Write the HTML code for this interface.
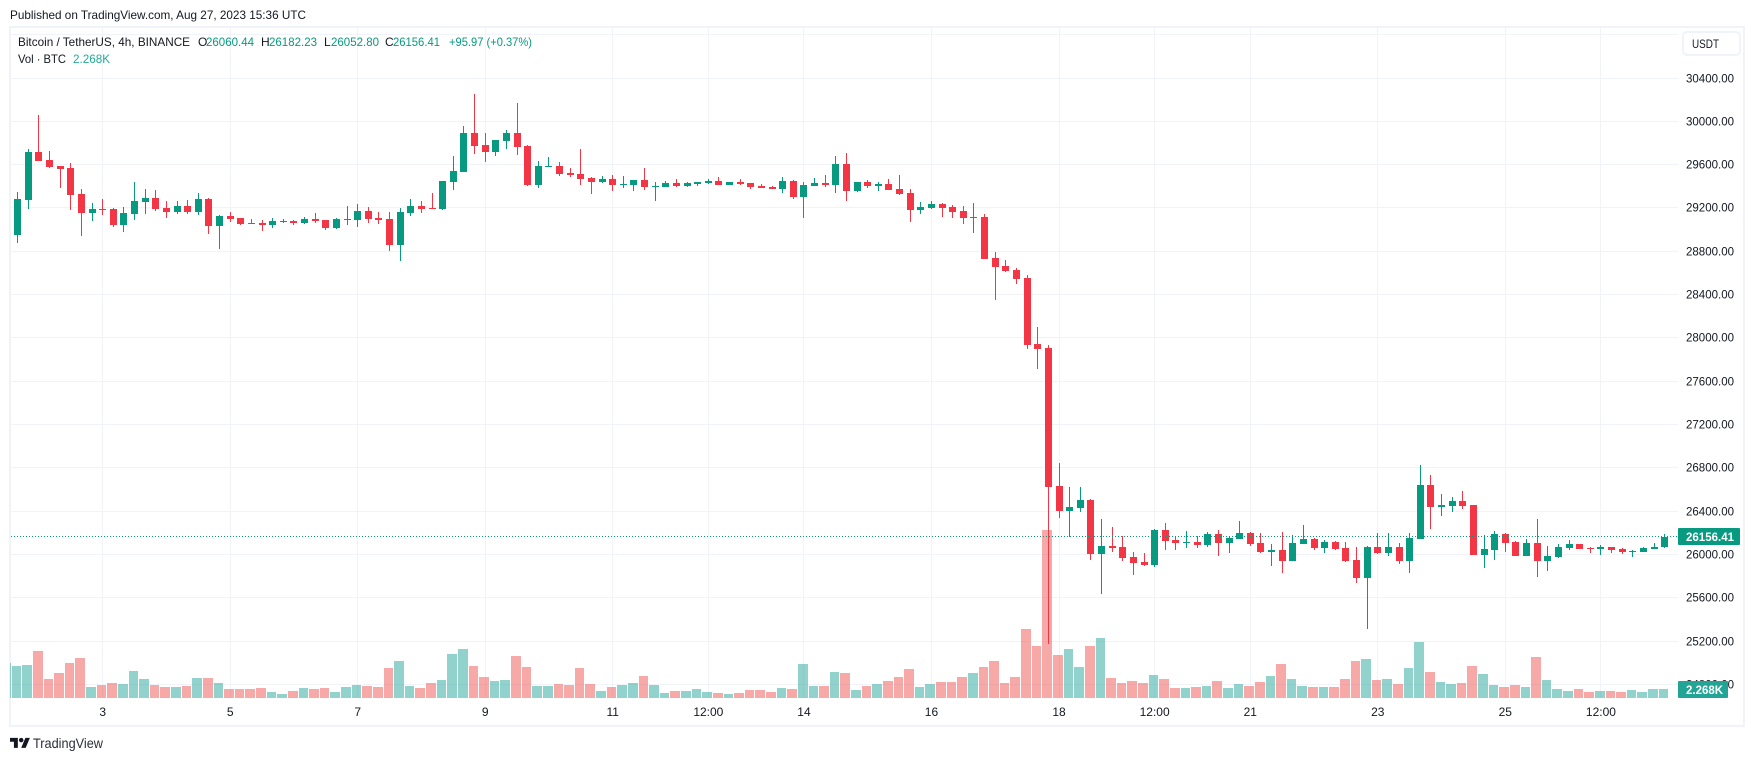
<!DOCTYPE html>
<html lang="en">
<head>
<meta charset="utf-8">
<title>Bitcoin / TetherUS 4h chart</title>
<style>
html,body{margin:0;padding:0;background:#fff;width:1754px;height:761px;overflow:hidden}
svg{display:block}
text{font-family:"Liberation Sans",sans-serif;fill:#131722}
</style>
</head>
<body>
<svg id="chart" xmlns="http://www.w3.org/2000/svg" width="1754" height="761" viewBox="0 0 1754 761">
  <defs>
    <clipPath id="pane-clip"><rect x="10" y="28" width="1668" height="670"/></clipPath>
    <clipPath id="candle-clip"><rect x="11" y="28" width="1667" height="670"/></clipPath>
  </defs>
  <rect x="10" y="27" width="1734" height="699" fill="#fff" stroke="#F0F3FA" stroke-width="2"/>
  <g id="grid"></g>
  <g id="volumes" clip-path="url(#pane-clip)"></g>
  <g id="candles" clip-path="url(#candle-clip)"></g>
  <g id="price-axis"></g>
  <g id="time-axis"></g>

  <text x="10" y="19" font-size="12" fill="#131722" textLength="296" lengthAdjust="spacingAndGlyphs">Published on TradingView.com, Aug 27, 2023 15:36 UTC</text>

  <g font-size="12">
    <text x="18" y="46" textLength="172" lengthAdjust="spacingAndGlyphs">Bitcoin / TetherUS, 4h, BINANCE</text>
    <text x="198" y="46">O</text>
    <text x="206" y="46" style="fill:#089981" textLength="48" lengthAdjust="spacingAndGlyphs">26060.44</text>
    <text x="261" y="46">H</text>
    <text x="269" y="46" style="fill:#089981" textLength="48" lengthAdjust="spacingAndGlyphs">26182.23</text>
    <text x="324" y="46">L</text>
    <text x="331" y="46" style="fill:#089981" textLength="48" lengthAdjust="spacingAndGlyphs">26052.80</text>
    <text x="385" y="46">C</text>
    <text x="393" y="46" style="fill:#089981" textLength="47" lengthAdjust="spacingAndGlyphs">26156.41</text>
    <text x="449" y="46" style="fill:#089981" textLength="83" lengthAdjust="spacingAndGlyphs">+95.97 (+0.37%)</text>
    <text x="18" y="63" textLength="48" lengthAdjust="spacingAndGlyphs">Vol · BTC</text>
    <text x="73" y="63" style="fill:#22ab94" textLength="37" lengthAdjust="spacingAndGlyphs">2.268K</text>
  </g>

  <g>
    <rect x="1683" y="32" width="57" height="23" rx="4" fill="#fff" stroke="#F0F3FA" stroke-width="2"/>
    <text x="1692" y="48" font-size="12" textLength="27" lengthAdjust="spacingAndGlyphs">USDT</text>
  </g>

  <g>
    <g transform="translate(10 735.6) scale(.56)" fill="#131722">
      <path d="M14 22H7V11H0V4h14v18zM28 22h-8l7.5-18h8L28 22z"/>
      <circle cx="20" cy="8" r="4"/>
    </g>
    <text x="33" y="748" font-size="14" style="fill:#2a2e39" textLength="70" lengthAdjust="spacingAndGlyphs">TradingView</text>
  </g>
</svg>

<script>
// Bars run from the partly hidden 4h bar before the first full candle to the latest bar.
const opens = [29150,
28946,29269,29712,29638,29583,29564,29324,29149,29186,29186,
29038,29139,29250,29287,29195,29158,29213,29158,29278,29029,
29121,29102,29056,29056,29038,29066,29075,29056,29093,29084,
29010,29087,29084,29167,29102,29093,28853,29149,29213,29195,
29186,29435,29527,29887,29777,29712,29814,29887,29767,29407,
29577,29583,29518,29509,29472,29435,29463,29407,29407,29453,
29389,29389,29426,29398,29416,29426,29444,29407,29435,29426,
29398,29389,29370,29444,29296,29398,29426,29407,29601,29352,
29435,29398,29416,29370,29333,29176,29195,29232,29204,29167,
29106,29112,28733,28659,28622,28548,27939,27902,26628,26397,
26424,26498,26000,26073,26064,25972,25925,25898,26221,26129,
26101,26110,26083,26184,26101,26138,26193,26101,26018,26036,
25935,26092,26138,26055,26110,26055,25944,25778,26064,26009,
26064,25935,26138,26637,26434,26443,26489,26452,25990,26036,
26184,26110,25981,26101,25935,25972,26055,26092,26055,26046,
26064,26046,26021,26018,26046,26060.44];

const highs = [29260,
29343,29740,30054,29721,29583,29610,29370,29241,29278,29195,
29204,29435,29370,29361,29259,29259,29269,29333,29284,29130,
29158,29102,29093,29084,29102,29093,29084,29112,29149,29084,
29102,29213,29232,29204,29158,29158,29195,29278,29259,29333,
29444,29675,29952,30248,29887,29823,29915,30165,29777,29629,
29666,29620,29564,29740,29481,29490,29500,29490,29453,29564,
29435,29444,29463,29435,29435,29463,29481,29435,29463,29426,
29416,29398,29481,29453,29435,29472,29500,29675,29703,29435,
29453,29435,29463,29500,29370,29250,29259,29241,29222,29213,
29241,29139,28788,28715,28641,28576,28096,27930,26840,26618,
26618,26507,26323,26249,26166,26018,26009,26230,26286,26166,
26212,26166,26203,26221,26166,26304,26203,26193,26092,26203,
26175,26267,26147,26129,26120,26110,26064,26073,26193,26193,
26101,26193,26821,26729,26554,26526,26581,26452,26175,26212,
26193,26120,26138,26323,26073,26092,26129,26092,26064,26083,
26064,26055,26036,26064,26101,26182.23];

const lows = [29050,
28872,29186,29629,29564,29379,29176,28936,29075,29130,29019,
28973,29084,29139,29167,29102,29139,29139,29130,28955,28816,
29066,29038,29047,28982,29010,29056,29038,29047,29056,28992,
29001,29038,29019,29056,29047,28798,28705,29121,29149,29186,
29176,29361,29527,29694,29620,29675,29740,29684,29398,29379,
29573,29490,29481,29407,29324,29426,29352,29379,29352,29361,
29259,29389,29389,29389,29398,29416,29407,29407,29407,29370,
29379,29370,29333,29278,29102,29398,29389,29333,29259,29343,
29379,29352,29361,29315,29066,29139,29186,29112,29102,29047,
28964,28724,28345,28604,28493,27893,27708,25166,26332,26160,
26387,25944,25630,26018,25935,25806,25889,25879,26036,26036,
26055,26055,26064,25981,26009,26138,26073,26009,25889,25824,
25935,26092,26036,26009,26036,25926,25732,25307,26000,25981,
25907,25824,26138,26230,26350,26387,26415,25990,25870,25944,
26018,25981,25981,25787,25843,25963,26036,26046,26009,25990,
26009,26000,25972,26018,26046,26052.8];

const closes = [29230,
29278,29712,29629,29573,29555,29315,29149,29186,29176,29038,
29149,29259,29287,29186,29158,29213,29158,29278,29029,29121,
29093,29047,29050,29038,29075,29075,29056,29093,29075,29010,
29093,29093,29167,29093,29084,28853,29158,29213,29186,29186,
29444,29537,29887,29767,29712,29823,29887,29758,29407,29583,
29583,29509,29500,29463,29435,29463,29407,29416,29453,29389,
29398,29426,29398,29426,29435,29444,29407,29435,29416,29389,
29379,29370,29444,29296,29407,29426,29407,29601,29352,29435,
29398,29416,29361,29324,29176,29204,29232,29195,29158,29102,
29112,28724,28650,28613,28539,27930,27896,26618,26397,26434,
26498,26000,26073,26055,25963,25916,25898,26221,26120,26101,
26110,26083,26184,26101,26147,26193,26092,26018,26036,25935,
26101,26138,26055,26110,26046,25935,25778,26064,26009,26064,
25935,26147,26637,26434,26452,26489,26443,25990,26046,26184,
26101,25981,26101,25935,25981,26064,26092,26046,26046,26064,
26036,26018,26027,26055,26064,26156.41];

// Volume in thousands of BTC.
const volumes = [8.82,
8.06,8.32,11.84,4.79,6.30,8.82,10.08,2.77,3.28,3.78,
3.53,6.80,4.79,3.28,2.77,2.77,3.02,5.04,5.04,3.78,
2.27,2.27,2.27,2.52,1.51,1.01,1.76,2.52,2.27,2.52,
1.51,2.77,3.28,3.02,2.77,7.56,9.32,3.02,2.52,3.78,
4.54,11.09,12.35,8.06,5.29,4.28,4.54,10.58,7.81,3.02,
3.02,3.53,3.28,7.56,3.53,1.76,2.77,3.28,3.78,5.54,
3.28,1.26,1.76,1.76,2.27,1.51,1.26,1.01,1.26,2.02,
2.02,1.51,2.52,2.27,8.57,3.02,3.02,6.55,6.30,2.02,
3.02,3.53,4.28,5.29,7.31,2.77,3.53,4.03,4.03,5.29,
6.30,7.81,9.32,3.78,5.29,17.39,13.10,42.33,10.84,12.35,
7.81,13.10,15.12,5.04,3.78,4.28,3.78,5.80,4.79,2.52,
2.52,2.77,3.02,4.28,2.52,3.53,3.02,4.03,5.54,8.57,
4.79,3.02,2.77,2.77,2.77,4.79,9.32,9.83,4.54,4.79,
3.53,7.56,14.11,6.55,4.03,3.53,3.78,8.06,6.05,3.28,
2.77,3.28,2.77,10.33,4.54,2.27,1.76,2.27,1.51,1.76,
1.76,1.51,2.02,1.51,2.27,2.268];

const priceTicks = [30800,30400,30000,29600,29200,28800,28400,28000,27600,27200,26800,26400,26000,25600,25200,24800];
const timeLabels = ["3","5","7","9","11","12:00","14","16","18","12:00","21","23","25","12:00"];
const timeLabelBars = [9,21,33,45,57,66,75,87,99,108,117,129,141,150];
const lastPrice = 26156.41;
const lastPriceLabel = "26156.41";
const lastVolumeLabel = "2.268K";

const NS = 'http://www.w3.org/2000/svg';
const UP = '#089981';
const DOWN = '#F23645';
const xScale = i => 7.03 + 10.626 * i;
const yScale = p => 77.5 + (30400 - p) * 0.10828;
const volumeBase = 698;
const volumeHeight = v => v * 3.968;

function make(tag, attrs, parent) {
  const el = document.createElementNS(NS, tag);
  for (const key in attrs) el.setAttribute(key, attrs[key]);
  parent.appendChild(el);
  return el;
}

const grid = document.getElementById('grid');
priceTicks.forEach(p => {
  const y = Math.round(yScale(p));
  const line = make('rect', {x: 11, y: y, width: 1667, height: 1, fill: '#F0F3FA'}, grid);
  
  
});
timeLabelBars.forEach(b => {
  const x = Math.round(xScale(b) - 0.5);
  const line = make('rect', {x: x, y: 28, width: 1, height: 670, fill: '#F0F3FA'}, grid);
  
  
});

const volumeGroup = document.getElementById('volumes');
volumes.forEach((v, i) => {
  const up = closes[i] >= opens[i];
  const left = Math.round(xScale(i) - 6);
  const right = Math.round(xScale(i + 1) - 6) - 1;
  const top = Math.round(volumeBase - volumeHeight(v));
  const bar = make('rect', {x: left, y: top, width: right - left, height: volumeBase - top,
    fill: up ? 'rgba(38,166,154,.5)' : 'rgba(239,83,80,.5)'}, volumeGroup);
  
  
});

const candleGroup = document.getElementById('candles');
opens.forEach((o, i) => {
  const c = closes[i];
  const color = c >= o ? UP : DOWN;
  const cx = xScale(i);
  const hi = Math.round(yScale(highs[i]));
  const lo = Math.round(yScale(lows[i]));
  const top = Math.round(yScale(Math.max(o, c)));
  const bottom = Math.round(yScale(Math.min(o, c)));
  const wick = make('rect', {x: Math.round(cx - 0.5), y: hi, width: 1, height: Math.max(1, lo - hi), fill: color}, candleGroup);
  
  
  const body = make('rect', {x: Math.round(cx - 3.5), y: top, width: 7, height: Math.max(1, bottom - top), fill: color}, candleGroup);
  
  
});

const priceAxis = document.getElementById('price-axis');
priceTicks.slice(1).forEach(p => {
  const label = make('text', {x: 1686, y: Math.round(yScale(p)) + 4.5, 'font-size': 12, textLength: 48, lengthAdjust: 'spacingAndGlyphs', style: 'fill:#131722'}, priceAxis);
  
  
  label.textContent = p.toFixed(2);
});

const lastY = Math.round(yScale(lastPrice));
const priceLine = make('line', {x1: 11, x2: 1678, y1: lastY - 0.5, y2: lastY - 0.5, stroke: UP, 'stroke-width': 1, 'stroke-dasharray': '1 2'}, priceAxis);



const priceBox = make('rect', {x: 1678, y: lastY - 9, width: 62, height: 17, rx: 1, fill: UP}, priceAxis);


const priceText = make('text', {x: 1686, y: lastY + 4, 'font-size': 12, 'font-weight': 'bold', textLength: 48, lengthAdjust: 'spacingAndGlyphs', style: 'fill:#fff'}, priceAxis);


priceText.textContent = lastPriceLabel;

const volumeBox = make('rect', {x: 1678, y: 681, width: 50, height: 17, rx: 1, fill: '#22A595'}, priceAxis);


const volumeText = make('text', {x: 1686, y: 694, 'font-size': 12, 'font-weight': 'bold', textLength: 37, lengthAdjust: 'spacingAndGlyphs', style: 'fill:#fff'}, priceAxis);


volumeText.textContent = lastVolumeLabel;

const timeAxis = document.getElementById('time-axis');
timeLabels.forEach((t, n) => {
  const label = make('text', {x: xScale(timeLabelBars[n]), y: 716, 'font-size': 12, 'text-anchor': 'middle', style: 'fill:#131722'}, timeAxis);
  
  
  label.textContent = t;
});
</script>
</body>
</html>
